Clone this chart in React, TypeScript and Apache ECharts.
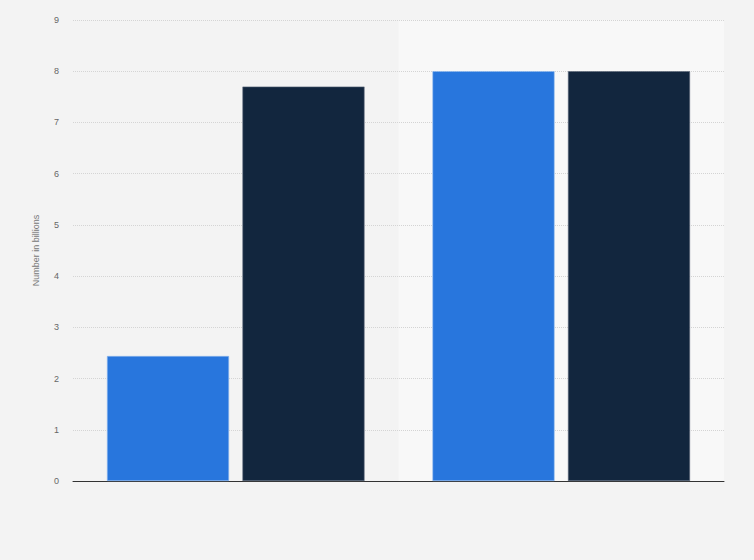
import { useRef, useEffect } from 'react'
import * as echarts from 'echarts'

const categories = ['A', 'B']
const seriesA = [2.44, 8.0]
const seriesB = [7.7, 8.0]
const yTicks = [0, 1, 2, 3, 4, 5, 6, 7, 8, 9]

export default function App() {
  const chartRef = useRef<HTMLDivElement>(null)

  useEffect(() => {
    if (!chartRef.current) return
    const chart = echarts.init(chartRef.current, undefined, { renderer: 'svg' })

    chart.setOption({
      animation: false,
      backgroundColor: '#f3f3f3',
      grid: { top: 20, left: 73, right: 30, bottom: 79 },
      tooltip: { show: false },
      legend: { show: false },
      xAxis: {
        type: 'category',
        data: categories,
        z: 0,
        axisLine: { lineStyle: { color: '#333', width: 1 } },
        axisTick: { show: false },
        axisLabel: { show: false },
        splitArea: { show: true, areaStyle: { color: ['rgba(0,0,0,0)', '#f8f8f8'] } },
      },
      yAxis: {
        type: 'value',
        z: 1,
        min: yTicks[0],
        max: yTicks[yTicks.length - 1],
        interval: 1,
        name: 'Number in billions',
        nameLocation: 'middle',
        nameGap: 33,
        nameTextStyle: { color: '#777', fontSize: 9, fontFamily: 'Arial, Liberation Sans, sans-serif' },
        axisLine: { show: false },
        axisTick: { show: false },
        axisLabel: { color: '#666', fontSize: 9, margin: 14, fontFamily: 'Arial, Liberation Sans, sans-serif' },
        splitLine: { showMinLine: false, lineStyle: { color: '#d4d4d4', type: [1, 1], width: 1 } },
      },
      series: [
        {
          name: 'Series 1', type: 'bar', data: seriesA, z: 2,
          barWidth: '37.5%', barGap: '11%',
          itemStyle: { color: '#2876dd', borderColor: '#8fb8ee', borderWidth: 0.6 },
        },
        {
          name: 'Series 2', type: 'bar', data: seriesB, z: 2,
          barWidth: '37.5%',
          itemStyle: { color: '#12263e', borderColor: '#5a6778', borderWidth: 0.6 },
        },
      ],
    })

    return () => chart.dispose()
  }, [])

  return (
    <div
      ref={chartRef}
      style={{ position: 'absolute', left: 0, top: 0, width: 754, height: 560 }}
    />
  )
}
